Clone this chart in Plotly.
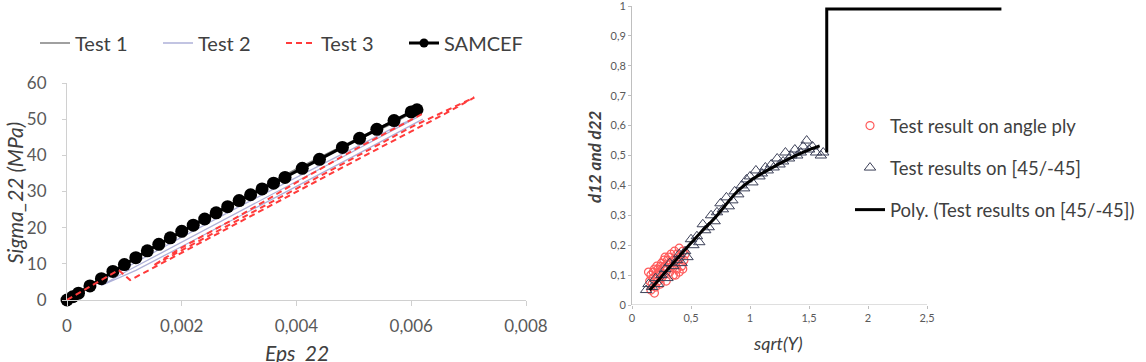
import plotly.graph_objects as go

# ---------------- Left chart data ----------------
eps_samcef = [0, 0.0001, 0.0002, 0.0004, 0.0006, 0.0008, 0.0010, 0.0012, 0.0014, 0.0016, 0.0018,
              0.0020, 0.0022, 0.0024, 0.0026, 0.0028, 0.0030, 0.0032, 0.0034, 0.0036, 0.0038,
              0.0041, 0.0044, 0.0048, 0.0051, 0.0054, 0.0057, 0.0060, 0.0061]
sig_samcef = [0, 0.9, 1.9, 3.9, 5.9, 7.9, 9.8, 11.7, 13.6, 15.4, 17.2,
              19.0, 20.7, 22.4, 24.1, 25.8, 27.5, 29.1, 30.7, 32.3, 33.9,
              36.4, 38.9, 42.2, 44.7, 47.2, 49.6, 52.0, 52.6]

eps_test1 = [0, 0.0005, 0.0010, 0.0015, 0.0020, 0.0025, 0.0030, 0.0035, 0.0040, 0.0045, 0.0050,
             0.0055, 0.0060, 0.00615, 0.0057, 0.0052]
sig_test1 = [0, 5.0, 10.0, 14.5, 19.2, 23.6, 27.9, 32.1, 36.2, 40.2, 44.2,
             48.1, 51.9, 53.0, 49.0, 45.3]

eps_test2 = [0, 0.0010, 0.0020, 0.0030, 0.0040, 0.0050, 0.0058, 0.0061, 0.0050, 0.0040, 0.0030,
             0.0020, 0.0010, 0.0006, 0.0012, 0.0020, 0.0030, 0.0040, 0.0050, 0.0062]
sig_test2 = [0, 8.8, 17.4, 25.8, 34.0, 42.0, 48.5, 50.5, 41.2, 32.8, 24.4,
             16.0, 7.6, 4.0, 8.2, 14.8, 23.0, 31.4, 39.8, 50.0]

eps_test3 = [0, 0.0005, 0.0009, 0.0011, 0.0020, 0.0030, 0.0037, 0.0045, 0.0052, 0.0060, 0.0066,
             0.0071, 0.0060, 0.0050, 0.0040, 0.0030, 0.0022, 0.0015, 0.0020, 0.0030, 0.0040,
             0.0050, 0.0062]
sig_test3 = [0, 4.6, 8.3, 5.5, 13.1, 21.5, 27.4, 34.1, 40.0, 46.6, 51.6,
             56.0, 47.8, 39.3, 30.8, 22.3, 15.5, 9.5, 14.5, 23.2, 32.5,
             41.5, 51.5]

left_x_ticks = [0, 0.002, 0.004, 0.006, 0.008]
left_x_ticktext = ["0", "0,002", "0,004", "0,006", "0,008"]
left_y_ticks = [0, 10, 20, 30, 40, 50, 60]

# ---------------- Right chart data ----------------
angle_x = [0.16, 0.17, 0.18, 0.18, 0.19, 0.20, 0.21, 0.22, 0.22, 0.23, 0.24, 0.25, 0.25, 0.26,
           0.27, 0.27, 0.28, 0.29, 0.30, 0.30, 0.31, 0.32, 0.32, 0.33, 0.34, 0.35, 0.35, 0.36,
           0.37, 0.38, 0.38, 0.39, 0.40, 0.41, 0.42, 0.43, 0.44, 0.45, 0.19, 0.15, 0.16, 0.21,
           0.40, 0.37, 0.43, 0.14, 0.24, 0.28]
angle_y = [0.05, 0.07, 0.11, 0.09, 0.12, 0.06, 0.10, 0.08, 0.12, 0.11, 0.13, 0.09, 0.14, 0.12,
           0.10, 0.15, 0.13, 0.08, 0.12, 0.15, 0.16, 0.11, 0.14, 0.17, 0.13, 0.10, 0.15, 0.18,
           0.14, 0.12, 0.17, 0.15, 0.19, 0.16, 0.13, 0.18, 0.15, 0.17, 0.04, 0.08, 0.10, 0.13,
           0.11, 0.10, 0.12, 0.11, 0.07, 0.16]

pm45_x = [0.12, 0.14, 0.17, 0.20, 0.22, 0.25, 0.28, 0.30, 0.32, 0.35, 0.38, 0.40, 0.42, 0.45,
          0.47, 0.50, 0.52, 0.55, 0.57, 0.60, 0.62, 0.65, 0.67, 0.70, 0.72, 0.75, 0.77, 0.80,
          0.82, 0.85, 0.87, 0.90, 0.93, 0.95, 0.97, 1.00, 1.02, 1.05, 1.08, 1.10, 1.13, 1.15,
          1.18, 1.20, 1.23, 1.25, 1.28, 1.30, 1.33, 1.35, 1.38, 1.40, 1.43, 1.45, 1.48, 1.50,
          1.53, 1.56, 1.60, 1.62]
pm45_y = [0.05, 0.07, 0.06, 0.09, 0.07, 0.10, 0.12, 0.09, 0.14, 0.13, 0.15, 0.17, 0.14, 0.18,
          0.16, 0.22, 0.20, 0.23, 0.21, 0.27, 0.25, 0.26, 0.30, 0.28, 0.31, 0.34, 0.32, 0.36,
          0.33, 0.35, 0.38, 0.37, 0.40, 0.39, 0.42, 0.43, 0.41, 0.45, 0.43, 0.44, 0.46, 0.45,
          0.47, 0.46, 0.49, 0.47, 0.48, 0.51, 0.49, 0.50, 0.52, 0.50, 0.51, 0.53, 0.55, 0.52,
          0.53, 0.51, 0.50, 0.51]

poly_x = [0.15, 0.20, 0.30, 0.40, 0.50, 0.60, 0.70, 0.80, 0.90, 1.00, 1.10, 1.20, 1.30, 1.40,
          1.50, 1.59]
poly_y = [0.05, 0.072, 0.118, 0.163, 0.207, 0.25, 0.29, 0.338, 0.383, 0.415, 0.44, 0.462, 0.483,
          0.502, 0.519, 0.532]

step_x = [1.65, 1.65, 3.13]
step_y = [0.51, 0.99, 0.99]

right_x_ticks = [0, 0.5, 1, 1.5, 2, 2.5]
right_x_ticktext = ["0", "0,5", "1", "1,5", "2", "2,5"]
right_y_ticks = [0, 0.1, 0.2, 0.3, 0.4, 0.5, 0.6, 0.7, 0.8, 0.9, 1]
right_y_ticktext = ["0", "0,1", "0,2", "0,3", "0,4", "0,5", "0,6", "0,7", "0,8", "0,9", "1"]

FONT = "Lato"
W, H = 1146, 362

fig = go.Figure()

# left chart traces
fig.add_trace(go.Scatter(x=eps_test1, y=sig_test1, mode="lines", name="Test 1",
                         line=dict(color="#808080", width=1.6), legend="legend", legendrank=1))
fig.add_trace(go.Scatter(x=eps_test2, y=sig_test2, mode="lines", name="Test 2",
                         line=dict(color="#aeb0d8", width=1.3), legend="legend", legendrank=2))
fig.add_trace(go.Scatter(x=eps_samcef, y=sig_samcef, mode="lines+markers", name="SAMCEF",
                         line=dict(color="black", width=3),
                         marker=dict(color="black", size=13), cliponaxis=False,
                         showlegend=False))
# legend entry for SAMCEF with a smaller marker (no data drawn)
fig.add_trace(go.Scatter(x=[None], y=[None], mode="lines+markers", name="SAMCEF",
                         line=dict(color="black", width=3),
                         marker=dict(color="black", size=9),
                         legend="legend", legendrank=4))
fig.add_trace(go.Scatter(x=eps_test3, y=sig_test3, mode="lines", name="Test 3",
                         line=dict(color="#ff3b3b", width=2, dash="6px,4px"),
                         legend="legend", legendrank=3))

# right chart traces
fig.add_trace(go.Scatter(x=angle_x, y=angle_y, mode="markers", name="Test result on angle ply",
                         marker=dict(symbol="circle-open", color="#ff5a5a", size=8,
                                     line=dict(width=1.2)),
                         xaxis="x2", yaxis="y2", legend="legend2", legendgroup="a"))
fig.add_trace(go.Scatter(x=pm45_x, y=pm45_y, mode="markers", name="Test results on [45/-45]",
                         marker=dict(symbol="triangle-up-open", color="#3c4058", size=10,
                                     line=dict(width=1)),
                         xaxis="x2", yaxis="y2", legend="legend2", legendgroup="b"))
fig.add_trace(go.Scatter(x=poly_x, y=poly_y, mode="lines", name="Poly. (Test results on [45/-45])",
                         line=dict(color="black", width=3, shape="spline"),
                         xaxis="x2", yaxis="y2", legend="legend2", legendgroup="c"))
fig.add_trace(go.Scatter(x=step_x, y=step_y, mode="lines", showlegend=False,
                         line=dict(color="black", width=3),
                         xaxis="x2", yaxis="y2"))

axis_font_left = dict(family=FONT, size=17, color="#595959")
axis_font_right = dict(family=FONT, size=11, color="#595959")

fig.update_layout(
    width=W, height=H,
    margin=dict(l=0, r=0, t=0, b=0, autoexpand=False),
    paper_bgcolor="white", plot_bgcolor="white",
    font=dict(family=FONT, color="#404040"),
    xaxis=dict(domain=[67 / W, 526 / W], range=[0, 0.008], tickvals=left_x_ticks,
               ticktext=left_x_ticktext, showgrid=False, zeroline=False, showline=True,
               linecolor="#d0d0d0", linewidth=1, ticks="outside", ticklen=5, tickcolor="#d0d0d0",
               tickfont=axis_font_left, anchor="y", automargin=False, ticklabelstandoff=6),
    yaxis=dict(domain=[1 - 300 / H, 1 - 83 / H], range=[0, 60], tickvals=left_y_ticks,
               showgrid=False, zeroline=False, showline=True, linecolor="#d0d0d0", linewidth=1,
               ticks="outside", ticklen=4, tickcolor="#d0d0d0", tickfont=axis_font_left,
               anchor="x", automargin=False, ticklabelstandoff=12),
    xaxis2=dict(domain=[632 / W, 1002 / W], range=[0, 3.135], tickvals=right_x_ticks,
                ticktext=right_x_ticktext, showgrid=False, zeroline=False, showline=False,
                ticks="outside", ticklen=3, tickcolor="#bfbfbf", tickfont=axis_font_right,
                anchor="y2", automargin=False),
    yaxis2=dict(domain=[1 - 305 / H, 1 - 6 / H], range=[0, 1], tickvals=right_y_ticks,
                ticktext=right_y_ticktext, showgrid=False, zeroline=False, showline=True,
                linecolor="#bfbfbf", linewidth=1, ticks="outside", ticklen=3,
                tickcolor="#bfbfbf", tickfont=axis_font_right, anchor="x2", automargin=False,
                ticklabeloverflow="allow"),
    legend=dict(orientation="h", x=35 / W, y=1 - 43 / H, xanchor="left", yanchor="middle",
                font=dict(family=FONT, size=20, color="#404040"),
                entrywidth=78, entrywidthmode="pixels", bgcolor="rgba(0,0,0,0)",
                traceorder="normal"),
    legend2=dict(orientation="v", x=850 / W, y=1 - 107 / H, xanchor="left", yanchor="top",
                 font=dict(family=FONT, size=18.5, color="#404040"), bgcolor="rgba(0,0,0,0)",
                 tracegroupgap=15, traceorder="grouped"),
    showlegend=True,
)

# right x-axis line only up to 2.5
fig.add_shape(type="line", xref="x2", yref="y2", x0=0, x1=2.5, y0=0, y1=0,
              line=dict(color="#bfbfbf", width=1))

# axis titles
fig.add_annotation(text="<i>Sigma_22 (MPa)</i>", x=14 / W, y=1 - 193 / H, xref="paper",
                   yref="paper", xanchor="center", yanchor="middle", textangle=-90,
                   showarrow=False, font=dict(family=FONT, size=21, color="#404040"))
fig.add_annotation(text="<i>Eps_22</i>", x=297 / W, y=1 - 352 / H, xref="paper", yref="paper",
                   xanchor="center", yanchor="middle", showarrow=False,
                   font=dict(family=FONT, size=21, color="#404040"))
fig.add_annotation(text="<b><i>d12 and d22</i></b>", x=595 / W, y=1 - 157 / H, xref="paper",
                   yref="paper", xanchor="center", yanchor="middle", textangle=-90,
                   showarrow=False, font=dict(family=FONT, size=17, color="#404040"))
fig.add_annotation(text="<i>sqrt(Y)</i>", x=778 / W, y=1 - 343 / H, xref="paper", yref="paper",
                   xanchor="center", yanchor="middle", showarrow=False,
                   font=dict(family=FONT, size=18, color="#404040"))

fig.write_html("out.html")
